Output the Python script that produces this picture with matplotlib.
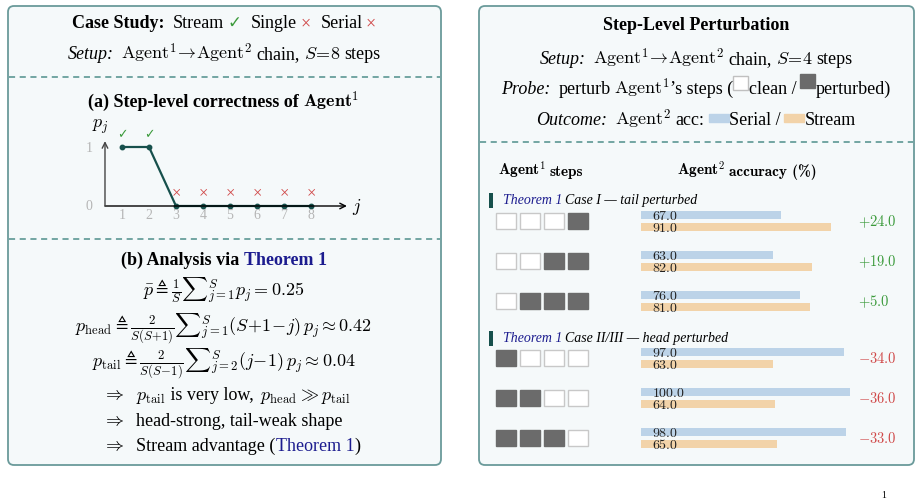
import numpy as np
import matplotlib.pyplot as plt
from matplotlib.patches import FancyBboxPatch, Rectangle

plt.rcParams['font.family'] = ['Liberation Serif', 'DejaVu Sans']
plt.rcParams['mathtext.fontset'] = 'cm'

# step-level correctness of Agent^1 (case study, S=8)
steps = np.arange(1, 9)
p_j = np.array([1, 1, 0, 0, 0, 0, 0, 0])

# perturbation probe (S=4): 1 = perturbed step, 0 = clean
case_titles = ["Case I \u2014 tail perturbed", "Case II/III \u2014 head perturbed"]
perturb_patterns = [[0, 0, 0, 1], [0, 0, 1, 1], [0, 1, 1, 1],
                    [1, 0, 0, 0], [1, 1, 0, 0], [1, 1, 1, 0]]
serial_acc = [67.0, 63.0, 76.0, 97.0, 100.0, 98.0]
stream_acc = [91.0, 82.0, 81.0, 63.0, 64.0, 65.0]

S = len(steps)
p_bar = p_j.mean()
p_head = 2 / (S * (S + 1)) * np.sum((S + 1 - steps) * p_j)
p_tail = 2 / (S * (S - 1)) * np.sum((steps - 1) * p_j)

EDGE = '#6a9a9a'
FACE = '#f5f9fa'
DASH = '#4f8f8a'
TEAL = '#17504c'
NAVY = '#1c1c8f'
GREEN = '#3a9a3a'
RED = '#d04848'
SERIAL = '#bcd3e8'
STREAM = '#f2d3a9'
DARK = '#6b6b6b'

fig = plt.figure(figsize=(9.21, 5.02), dpi=100)
ov = fig.add_axes([0, 0, 1, 1])
ov.set_xlim(0, 921)
ov.set_ylim(502, 0)
ov.axis('off')
renderer = fig.canvas.get_renderer()


def put_line(y, segs, x, ha='center', size=13):
    """Lay out text pieces / gaps / swatches along one baseline."""
    items = []
    total = 0
    for seg in segs:
        if seg[0] == 't':
            kw = dict(fontsize=size)
            kw.update(seg[2] if len(seg) > 2 else {})
            t = ov.text(0, y, seg[1], va='baseline', ha='left', **kw)
            w = t.get_window_extent(renderer).width
            items.append(('t', t, w))
        elif seg[0] == 'g':
            w = seg[1]
            items.append(('g', None, w))
        else:  # swatch: ('b', w, h, fc, ec, lift)
            w = seg[1]
            items.append(('b', seg, w))
        total += w
    pos = x - total / 2 if ha == 'center' else x
    for kind, obj, w in items:
        if kind == 't':
            obj.set_x(pos)
        elif kind == 'b':
            _, bw, bh, fc, ec, lift = obj
            ov.add_patch(Rectangle((pos, y - lift - bh), bw, bh, facecolor=fc,
                                   edgecolor=ec, lw=1))
        pos += w


# panels
for x0, x1 in [(8, 441), (479, 914)]:
    ov.add_patch(FancyBboxPatch((x0, 7), x1 - x0, 459,
                                boxstyle='round,pad=0,rounding_size=6',
                                facecolor=FACE, edgecolor=EDGE, lw=1.3))
for x0, x1, y in [(8, 441, 78), (8, 441, 240), (479, 914, 143)]:
    ov.plot([x0 + 1, x1 - 1], [y, y], color=DASH, lw=1.1, ls=(0, (4, 3)))

# ---- left panel ----
put_line(28, [('t', 'Case Study:', dict(fontweight='bold')), ('g', 8),
              ('t', 'Stream'), ('g', 3), ('t', '\u2713', dict(color=GREEN, family='DejaVu Sans', fontsize=12)),
              ('g', 10), ('t', 'Single'), ('g', 3), ('t', '\u00d7', dict(color=RED)),
              ('g', 10), ('t', 'Serial'), ('g', 3), ('t', '\u00d7', dict(color=RED))], x=224)
put_line(59, [('t', 'Setup:', dict(style='italic')), ('g', 8),
              ('t', r'$\mathrm{Agent}^1\!\rightarrow\!\mathrm{Agent}^2$'), ('g', 4),
              ('t', 'chain,'), ('g', 4), ('t', r'$S\!=\!%d$' % S), ('g', 4), ('t', 'steps')], x=224)
put_line(107, [('t', '(a) Step-level correctness of ', dict(fontweight='bold')),
               ('t', r'$\mathbf{Agent}^{\mathbf{1}}$')], x=224)

# mini line chart
mx = fig.add_axes([95 / 921, (502 - 224.7) / 502, 270 / 921, (224.7 - 124.4) / 502])
mx.set_xlim(0, 10)
mx.set_ylim(-0.3, 1.4)
mx.axis('off')
mx.patch.set_alpha(0)
mx.annotate('', xy=(9.33, 0), xytext=(0.37, 0),
            arrowprops=dict(arrowstyle='->', color='black', lw=1, shrinkA=0, shrinkB=0))
mx.annotate('', xy=(0.37, 1.1), xytext=(0.37, 0),
            arrowprops=dict(arrowstyle='->', color='#444444', lw=1, shrinkA=0, shrinkB=0))
mx.plot(steps, p_j, color=TEAL, lw=1.6, marker='o', ms=3.2)
for j, p in zip(steps, p_j):
    if p > 0.5:
        mx.text(j, 1.22, '\u2713', color=GREEN, ha='center', va='center',
                family='DejaVu Sans', fontsize=9)
    else:
        mx.text(j, 0.24, '\u00d7', color=RED, ha='center', va='center', fontsize=12)
    mx.text(j, -0.14, str(j), color='#b5b5b5', ha='center', va='center', fontsize=10)
mx.text(-0.22, 1, '1', color='#b5b5b5', ha='center', va='center', fontsize=10)
mx.text(-0.22, 0, '0', color='#b5b5b5', ha='center', va='center', fontsize=10)
mx.text(0.2, 1.36, r'$p_j$', ha='center', va='center', fontsize=13)
mx.text(9.7, 0.0, r'$j$', ha='center', va='center', fontsize=13)

put_line(265, [('t', '(b) Analysis via ', dict(fontweight='bold')),
               ('t', 'Theorem 1', dict(fontweight='bold', color=NAVY))], x=224)
put_line(295, [('t', r'$\bar{p}\triangleq\frac{1}{S}{\sum}_{j=1}^{S}p_j=%.2f$' % p_bar)], x=224)
put_line(331, [('t', r'$p_{\mathrm{head}}\triangleq\frac{2}{S(S\!+\!1)}{\sum}_{j=1}^{S}(S\!+\!1\!-\!j)\,p_j\approx%.2f$' % p_head)], x=224)
put_line(366, [('t', r'$p_{\mathrm{tail}}\triangleq\frac{2}{S(S\!-\!1)}{\sum}_{j=2}^{S}(j\!-\!1)\,p_j\approx%.2f$' % p_tail)], x=224)
put_line(400, [('t', r'$\Rightarrow$'), ('g', 12), ('t', r'$p_{\mathrm{tail}}$'), ('t', ' is very low,'),
               ('g', 6), ('t', r'$p_{\mathrm{head}}\gg p_{\mathrm{tail}}$')], x=102, ha='left')
put_line(426, [('t', r'$\Rightarrow$'), ('g', 12), ('t', 'head-strong, tail-weak shape')], x=102, ha='left')
put_line(451, [('t', r'$\Rightarrow$'), ('g', 12), ('t', 'Stream advantage ('),
               ('t', 'Theorem 1', dict(color=NAVY)), ('t', ')')], x=102, ha='left')

# ---- right panel ----
put_line(30, [('t', 'Step-Level Perturbation', dict(fontweight='bold'))], x=696)
put_line(64, [('t', 'Setup:', dict(style='italic')), ('g', 8),
              ('t', r'$\mathrm{Agent}^1\!\rightarrow\!\mathrm{Agent}^2$'), ('g', 4),
              ('t', 'chain,'), ('g', 4), ('t', r'$S\!=\!4$'), ('g', 4), ('t', 'steps')], x=696)
put_line(94, [('t', 'Probe:', dict(style='italic')), ('g', 8), ('t', 'perturb'), ('g', 4),
              ('t', r'$\mathrm{Agent}^1$'), ('t', '\u2019s steps ('),
              ('b', 15, 14, 'white', '#c0c0c0', 3), ('g', 1), ('t', 'clean /'), ('g', 3),
              ('b', 15, 14, DARK, DARK, 5), ('g', 1), ('t', 'perturbed)')], x=696)
put_line(125, [('t', 'Outcome:', dict(style='italic')), ('g', 8),
               ('t', r'$\mathrm{Agent}^2$'), ('g', 4), ('t', 'acc:'), ('g', 4),
               ('b', 20, 8, SERIAL, SERIAL, 2), ('t', 'Serial /'), ('g', 4),
               ('b', 20, 8, STREAM, STREAM, 2), ('t', 'Stream')], x=696)

put_line(176, [('t', r'$\mathbf{Agent}^{\mathbf{1}}$'), ('g', 4),
               ('t', 'steps', dict(family=['cmb10', 'DejaVu Sans']))], x=498, ha='left', size=11)
put_line(176, [('t', r'$\mathbf{Agent}^{\mathbf{2}}$'), ('g', 4),
               ('t', 'accuracy (%)', dict(family=['cmb10', 'DejaVu Sans']))], x=677, ha='left', size=11)

row_y = np.array([222 + 40 * i + (17 if i >= 3 else 0) for i in range(len(serial_acc))])
for k, title in enumerate(case_titles):
    yb = 204 if k == 0 else 342
    ov.add_patch(Rectangle((489, yb - 10), 4, 15, facecolor=TEAL, edgecolor='none'))
    put_line(yb, [('t', 'Theorem 1', dict(style='italic', color=NAVY)), ('g', 3),
                  ('t', title, dict(style='italic'))], x=503, ha='left', size=10)

for pattern, y in zip(perturb_patterns, row_y):
    for k, bit in enumerate(pattern):
        ov.add_patch(Rectangle((495.5 + 24 * k, y - 8), 20.5, 16,
                               facecolor=DARK if bit else 'white',
                               edgecolor=DARK if bit else '#c8c8c8', lw=1))

bx = fig.add_axes([641 / 921, 0, 209 / 921, 1])
bx.set_xlim(0, 100)
bx.set_ylim(502, 0)
bx.axis('off')
bx.patch.set_alpha(0)
bx.barh(row_y - 6, serial_acc, height=8, color=SERIAL)
bx.barh(row_y + 6, stream_acc, height=8, color=STREAM)
for y, a, b in zip(row_y, serial_acc, stream_acc):
    bx.text(5.2, y - 5.5, r'$%.1f$' % a, va='center', ha='left', fontsize=10, color='#222222')
    bx.text(5.2, y + 6.5, r'$%.1f$' % b, va='center', ha='left', fontsize=10, color='#222222')
    d = b - a
    ov.text(858, y, r'$%+.1f$' % d, va='center', ha='left', fontsize=10.5,
            color=GREEN if d > 0 else RED)

ov.text(884, 500, '1', fontsize=7, ha='center', va='bottom')

fig.savefig('out.png', dpi=100)
